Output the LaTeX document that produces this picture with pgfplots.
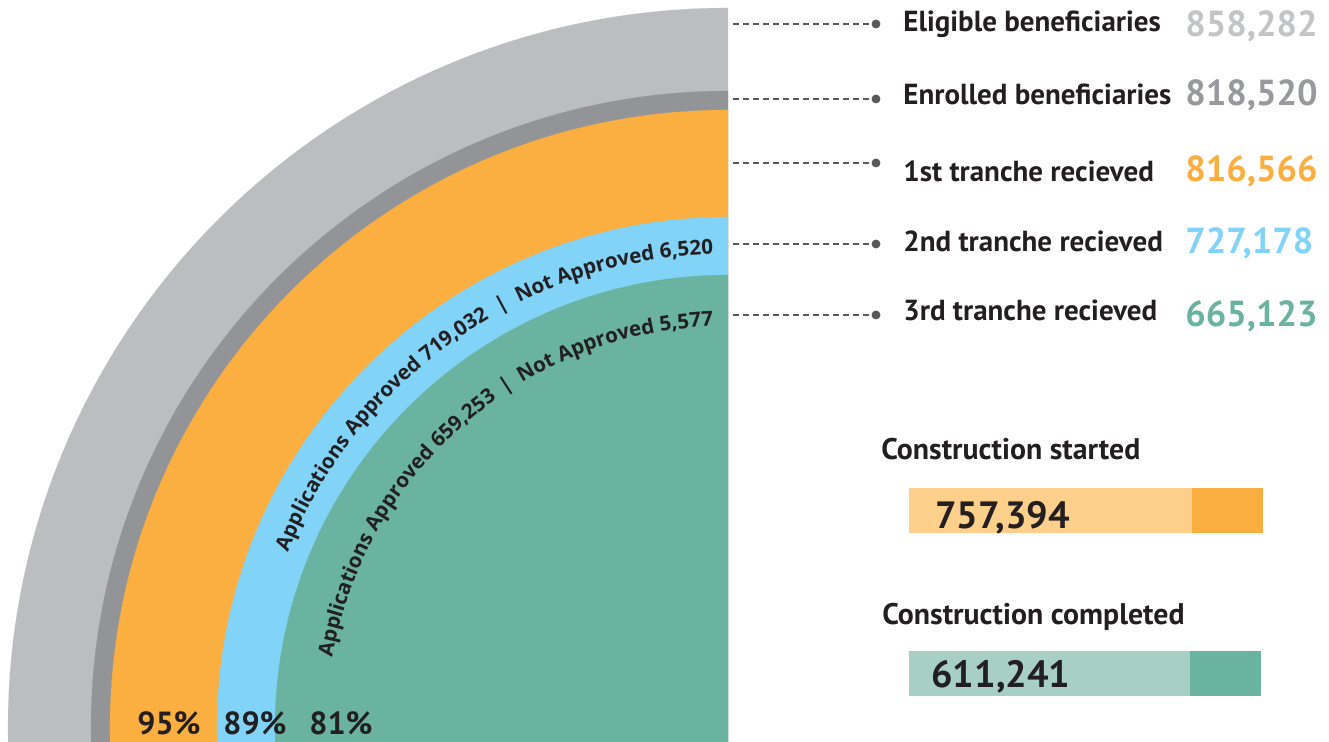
\documentclass[border=0pt]{standalone}
\usepackage{pgfplots}
\pgfplotsset{compat=1.18}
\usepackage{pgfplotstable}
\usetikzlibrary{decorations.text}
\usepackage{fontspec}
\setmainfont{PT Sans}
\newfontfamily\curvefont{Open Sans}

\definecolor{cGrayL}{HTML}{BCBDC1}
\definecolor{cGrayD}{HTML}{939498}
\definecolor{cOrange}{HTML}{FBAF41}
\definecolor{cBlue}{HTML}{81D4F7}
\definecolor{cGreen}{HTML}{6AB3A0}
\definecolor{cOrangeL}{HTML}{FCCF8B}
\definecolor{cGreenL}{HTML}{A7CFC3}
\definecolor{tdark}{HTML}{231F20}
\definecolor{numL}{HTML}{C3C4C6}
\definecolor{numD}{HTML}{98999C}
\definecolor{lead}{HTML}{58595B}

\newcommand\labfont{\bfseries\fontsize{14.5}{17}\selectfont}
\newcommand\headfont{\bfseries\fontsize{14.9}{17}\selectfont}
\newcommand\numfont{\bfseries\fontsize{18.1}{21}\selectfont}
\newcommand\barfont{\bfseries\fontsize{19}{22}\selectfont}
\newcommand\pctfont{\bfseries\fontsize{16}{18}\selectfont}
\newcommand\arcfont{\curvefont\bfseries\fontsize{10.3}{12}\selectfont\color{tdark}}

% ring radii in px (centre of the quarter circle at x=728, y=728 from top)
\pgfplotstableread{
x y r
728 728 720
}\ringEligible
\pgfplotstableread{
x y r
728 728 637
}\ringEnrolled
\pgfplotstableread{
x y r
728 728 618
}\ringFirst
\pgfplotstableread{
x y r
728 728 511
}\ringSecond
\pgfplotstableread{
x y r
728 728 453
}\ringThird

\pgfplotsset{
  ring/.style={only marks, mark=*, scatter,
    mark options={draw=#1, fill=#1, line width=0.05pt},
    scatter/use mapped color={draw=#1, fill=#1, line width=0.05pt},
    visualization depends on={\thisrow{r}*0.5 \as \rr},
    scatter/@pre marker code/.append style={/tikz/mark size=\rr pt}},
  leader/.style={lead, line width=0.6pt, dash pattern=on 3pt off 2pt,
    mark=*, mark indices={2}, mark size=1.9pt, mark options={solid, fill=lead, draw=lead}},
  canvas/.style={at={(0,0)}, anchor=south west, x=0.5pt, y=0.5pt,
    ymin=0, ymax=742, y dir=reverse, hide axis},
}

\begin{document}
\begin{tikzpicture}
\path[use as bounding box] (0,0) rectangle (664.5pt,371pt);

% concentric quarter rings
\begin{axis}[canvas, xmin=0, xmax=728, clip=true, clip marker paths=true]
\addplot [ring=cGrayL] table {\ringEligible};
\addplot [ring=cGrayD] table {\ringEnrolled};
\addplot [ring=cOrange] table {\ringFirst};
\addplot [ring=cBlue] table {\ringSecond};
\addplot [ring=cGreen] table {\ringThird};
\end{axis}

% construction bars
\begin{axis}[canvas, at={(454.5pt,0pt)}, xmin=0, xmax=420, clip=false,
  xbar, bar width=22.5pt, bar shift=0pt]
\addplot [fill=cOrange, draw=none] coordinates {(354,510.5)};
\addplot [fill=cOrangeL, draw=none] coordinates {(283,510.5)};
\addplot [fill=cGreen, draw=none] coordinates {(352,673.5)};
\addplot [fill=cGreenL, draw=none] coordinates {(281,673.5)};
\end{axis}

% leaders, labels, numbers
\begin{axis}[canvas, xmin=0, xmax=1329, clip=false]
\addplot [leader] coordinates {(733,24) (876,24)};
\addplot [leader] coordinates {(733,99) (876,99)};
\addplot [leader] coordinates {(733,163) (876,163)};
\addplot [leader] coordinates {(733,244) (876,244)};
\addplot [leader] coordinates {(733,315) (876,315)};

\node[anchor=base west, font=\labfont, text=tdark, inner sep=0pt] at (axis cs:903,32) {Eligible beneficiaries};
\node[anchor=base west, font=\labfont, text=tdark, inner sep=0pt] at (axis cs:903,105) {Enrolled beneficiaries};
\node[anchor=base west, font=\labfont, text=tdark, inner sep=0pt] at (axis cs:903,182) {1st tranche recieved};
\node[anchor=base west, font=\labfont, text=tdark, inner sep=0pt] at (axis cs:903,252) {2nd tranche recieved};
\node[anchor=base west, font=\labfont, text=tdark, inner sep=0pt] at (axis cs:903,321) {3rd tranche recieved};

\node[anchor=base west, font=\numfont, text=numL, inner sep=0pt] at (axis cs:1185,37) {858,282};
\node[anchor=base west, font=\numfont, text=numD, inner sep=0pt] at (axis cs:1185,106) {818,520};
\node[anchor=base west, font=\numfont, text=cOrange, inner sep=0pt] at (axis cs:1185,182) {816,566};
\node[anchor=base west, font=\numfont, text=cBlue, inner sep=0pt] at (axis cs:1185,254) {727,178};
\node[anchor=base west, font=\numfont, text=cGreen, inner sep=0pt] at (axis cs:1185,327) {665,123};

\node[anchor=base west, font=\headfont, text=tdark, inner sep=0pt] at (axis cs:881,460) {Construction started};
\node[anchor=base west, font=\headfont, text=tdark, inner sep=0pt] at (axis cs:882,625) {Construction completed};
\node[anchor=base west, font=\barfont, text=tdark, inner sep=0pt] at (axis cs:935,529) {757,394};
\node[anchor=base west, font=\barfont, text=tdark, inner sep=0pt] at (axis cs:931,688) {611,241};

\node[anchor=base west, font=\pctfont, text=tdark, inner sep=0pt] at (axis cs:137,735) {95\%};
\node[anchor=base west, font=\pctfont, text=tdark, inner sep=0pt] at (axis cs:223,735) {89\%};
\node[anchor=base west, font=\pctfont, text=tdark, inner sep=0pt] at (axis cs:309,735) {81\%};

\path[decorate, decoration={text along path, text format delimiters={[}{]},
  text={[\arcfont]Applications Approved 719,032{\hspace{3pt}} | {\hspace{3pt}}Not Approved 6,520},
  text align=center}]
  ([shift={(177:237pt)}]axis cs:728,728) arc[start angle=177, end angle=73, radius=237pt];
\path[decorate, decoration={text along path, text format delimiters={[}{]},
  text={[\arcfont]Applications Approved 659,253{\hspace{2pt}} | {\hspace{2pt}}Not Approved 5,577},
  text align=center}]
  ([shift={(183:201pt)}]axis cs:728,728) arc[start angle=183, end angle=79, radius=201pt];
\end{axis}
\end{tikzpicture}
\end{document}
